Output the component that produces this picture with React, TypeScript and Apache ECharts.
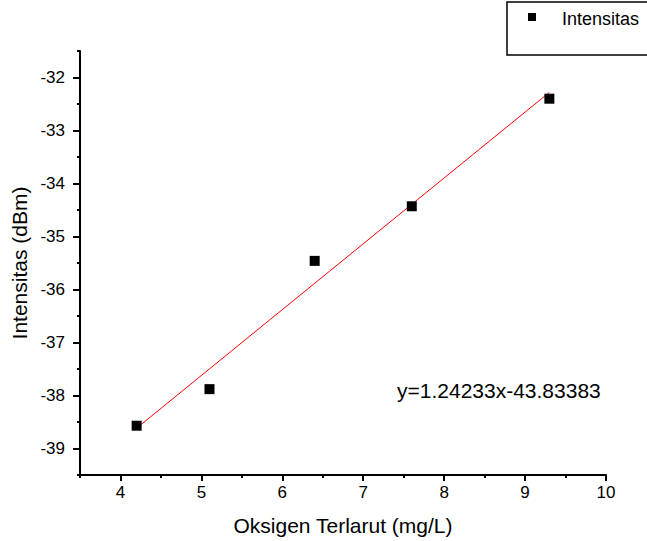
import React, { useEffect, useRef } from "react";
import * as echarts from "echarts";

const oksigen = [4.2, 5.1, 6.4, 7.6, 9.3];
const intensitas = [-38.57, -37.88, -35.46, -34.43, -32.4];
const fitSlope = 1.24233;
const fitIntercept = -43.83383;
const fitLabel = "y=1.24233x-43.83383";
const xMajor = [4, 5, 6, 7, 8, 9, 10];
const xMinor = [3.5, 4.5, 5.5, 6.5, 7.5, 8.5, 9.5];
const yMajor = [-39, -38, -37, -36, -35, -34, -33, -32];
const yMinor = [-39.5, -38.5, -37.5, -36.5, -35.5, -34.5, -33.5, -32.5, -31.5];
const seriesName = "Intensitas";
const xTitle = "Oksigen Terlarut (mg/L)";
const yTitle = "Intensitas (dBm)";

const FONT = "'Liberation Sans', Arial, sans-serif";

export default function App() {
  const ref = useRef<HTMLDivElement>(null);
  useEffect(() => {
    if (!ref.current) return;
    const chart = echarts.init(ref.current, undefined, { renderer: "svg" });
    const xs = [Math.min(...oksigen), Math.max(...oksigen)];
    const fitData = xs.map((x) => [x, fitSlope * x + fitIntercept]);
    const axisCommon = {
      type: "value" as const,
      splitLine: { show: false },
    };
    chart.setOption({
      animation: false,
      backgroundColor: "#ffffff",
      grid: { left: 80, right: 41, top: 51, bottom: 65, containLabel: false },
      xAxis: [
        {
          ...axisCommon,
          min: 3.5,
          max: 10,
          position: "bottom",
          name: xTitle,
          nameLocation: "middle",
          nameGap: 40,
          nameTextStyle: { fontFamily: FONT, fontSize: 21, color: "#000" },
          axisLine: { show: true, lineStyle: { color: "#000", width: 2 } },
          axisTick: {
            show: true,
            customValues: xMajor,
            length: 6,
            lineStyle: { color: "#000", width: 2 },
          },
          axisLabel: {
            customValues: xMajor,
            margin: 9,
            fontFamily: FONT,
            fontSize: 17,
            color: "#000",
          },
        },
        {
          ...axisCommon,
          min: 3.5,
          max: 10,
          position: "bottom",
          axisLine: { show: false },
          axisTick: {
            show: true,
            customValues: xMinor,
            length: 3,
            lineStyle: { color: "#000", width: 2 },
          },
          axisLabel: { show: false },
        },
      ],
      yAxis: [
        {
          ...axisCommon,
          min: -39.5,
          max: -31.5,
          position: "left",
          name: yTitle,
          nameLocation: "middle",
          nameRotate: 90,
          nameGap: 47,
          nameTextStyle: { fontFamily: FONT, fontSize: 21, color: "#000" },
          axisLine: { show: true, lineStyle: { color: "#000", width: 2 } },
          axisTick: {
            show: true,
            customValues: yMajor,
            length: 7,
            lineStyle: { color: "#000", width: 2 },
          },
          axisLabel: {
            customValues: yMajor,
            margin: 15,
            fontFamily: FONT,
            fontSize: 17,
            color: "#000",
          },
        },
        {
          ...axisCommon,
          min: -39.5,
          max: -31.5,
          position: "left",
          axisLine: { show: false },
          axisTick: {
            show: true,
            customValues: yMinor,
            length: 3,
            lineStyle: { color: "#000", width: 2 },
          },
          axisLabel: { show: false },
        },
      ],
      series: [
        {
          name: "fit",
          type: "line",
          xAxisIndex: 0,
          yAxisIndex: 0,
          data: fitData,
          symbol: "none",
          lineStyle: { color: "#ff0000", width: 1 },
          z: 2,
        },
        {
          name: seriesName,
          type: "scatter",
          xAxisIndex: 0,
          yAxisIndex: 0,
          data: oksigen.map((x, i) => [x, intensitas[i]]),
          symbol: "rect",
          symbolSize: 10,
          itemStyle: { color: "#000", opacity: 1 },
          z: 3,
        },
      ],
      graphic: [
        {
          type: "rect",
          shape: { x: 507, y: 2, width: 170, height: 53 },
          style: { fill: "#fff", stroke: "#000", lineWidth: 1.5 },
        },
        {
          type: "rect",
          shape: { x: 528, y: 13, width: 8, height: 8 },
          style: { fill: "#000" },
        },
        {
          type: "text",
          x: 562,
          y: 19,
          style: {
            text: seriesName,
            fontFamily: FONT,
            fontSize: 18,
            fill: "#000",
            verticalAlign: "middle",
          },
        },
        {
          type: "text",
          x: 397,
          y: 390,
          style: {
            text: fitLabel,
            fontFamily: FONT,
            fontSize: 21,
            fill: "#000",
            verticalAlign: "middle",
          },
        },
      ],
    });
    return () => chart.dispose();
  }, []);
  return (
    <div
      ref={ref}
      style={{ position: "fixed", left: 0, top: 0, width: 647, height: 541 }}
    />
  );
}
